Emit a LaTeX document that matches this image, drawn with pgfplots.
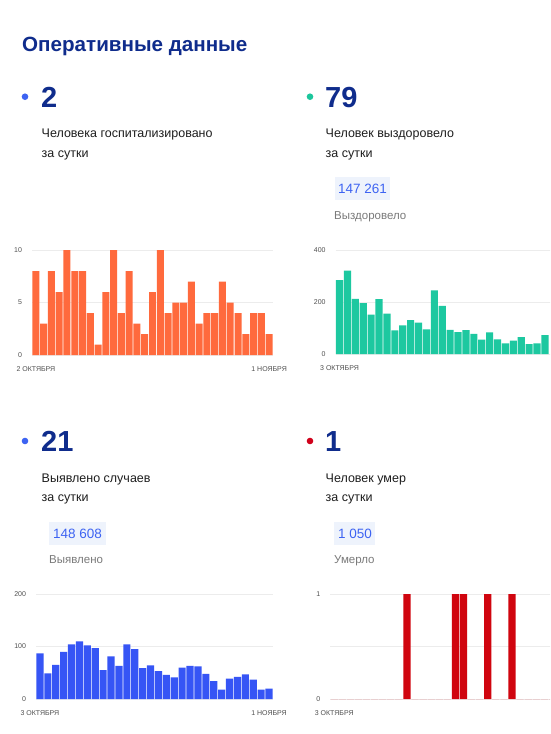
\documentclass[border=0pt]{standalone}
\usepackage{fontspec}
\setmainfont{Liberation Sans}
\usepackage{pgfplots}
\pgfplotsset{compat=1.18}

\definecolor{navy}{HTML}{0F2C8C}
\definecolor{dotblue}{HTML}{3D63F2}
\definecolor{dotteal}{HTML}{1CC69C}
\definecolor{dotred}{HTML}{D0021B}
\definecolor{barorange}{HTML}{FF6A3D}
\definecolor{barteal}{HTML}{1DC8A0}
\definecolor{barblue}{HTML}{3655F5}
\definecolor{barred}{HTML}{D0050F}
\definecolor{bodytext}{HTML}{1E1E1E}
\definecolor{subgray}{HTML}{7A7A7A}
\definecolor{boxbg}{HTML}{EEF3FC}
\definecolor{boxtext}{HTML}{3D63F2}
\definecolor{ticktext}{HTML}{505050}
\definecolor{gridgray}{HTML}{ECECEC}

\pgfplotsset{
  mini/.style={
    scale only axis,
    enlargelimits=false,
    axis line style={draw=none},
    tick style={draw=none},
    major tick length=0pt,
    ymajorgrids,
    grid style={draw=gridgray, line width=0.6pt},
    ybar, bar width=0.9, bar shift=0pt,
    /pgf/number format/assume math mode=true,
    tick label style={font=\fontsize{7}{8}\selectfont, text=ticktext},
    yticklabel style={xshift=-6.5pt},
    xticklabel style={yshift=-8pt},
    xtick={0},
  },
}

\begin{document}
\begin{tikzpicture}
\useasboundingbox (0,0) rectangle (550pt,-734pt);
\clip (0,0) rectangle (550pt,-734pt);
\fill[white] (0,0) rectangle (550pt,-734pt);

% title
\node[anchor=base west, inner sep=0, text=navy, font=\fontsize{20.6}{24}\selectfont\bfseries] at (22pt,-51.7pt) {Оперативные данные};

% panel 1
\fill[dotblue] (25pt,-96.7pt) circle (3.3pt);
\node[anchor=base west, inner sep=0, text=navy, font=\fontsize{29}{30}\selectfont\bfseries] at (41pt,-107.3pt) {2};
\node[anchor=base west, inner sep=0, text=bodytext, font=\fontsize{12.5}{14}\selectfont] at (41.5pt,-137.3pt) {Человека госпитализировано};
\node[anchor=base west, inner sep=0, text=bodytext, font=\fontsize{12.5}{14}\selectfont] at (41.5pt,-157.3pt) {за сутки};

% panel 2
\fill[dotteal] (310pt,-96.7pt) circle (3.3pt);
\node[anchor=base west, inner sep=0, text=navy, font=\fontsize{29}{30}\selectfont\bfseries] at (325pt,-107.3pt) {79};
\node[anchor=base west, inner sep=0, text=bodytext, font=\fontsize{12.5}{14}\selectfont] at (325.5pt,-137.3pt) {Человек выздоровело};
\node[anchor=base west, inner sep=0, text=bodytext, font=\fontsize{12.5}{14}\selectfont] at (325.5pt,-157.3pt) {за сутки};
\fill[boxbg] (335pt,-176.7pt) rectangle (390pt,-200pt);
\node[anchor=base west, inner sep=0, text=boxtext, font=\fontsize{13.5}{15}\selectfont] at (338pt,-193.3pt) {147 261};
\node[anchor=base west, inner sep=0, text=subgray, font=\fontsize{11.5}{13}\selectfont] at (334pt,-219.3pt) {Выздоровело};

% panel 3
\fill[dotblue] (25pt,-441pt) circle (3.3pt);
\node[anchor=base west, inner sep=0, text=navy, font=\fontsize{29}{30}\selectfont\bfseries] at (41pt,-451.7pt) {21};
\node[anchor=base west, inner sep=0, text=bodytext, font=\fontsize{12.5}{14}\selectfont] at (41.5pt,-482.7pt) {Выявлено случаев};
\node[anchor=base west, inner sep=0, text=bodytext, font=\fontsize{12.5}{14}\selectfont] at (41.5pt,-501.7pt) {за сутки};
\fill[boxbg] (49pt,-521.7pt) rectangle (106pt,-545pt);
\node[anchor=base west, inner sep=0, text=boxtext, font=\fontsize{13.5}{15}\selectfont] at (53pt,-538.3pt) {148 608};
\node[anchor=base west, inner sep=0, text=subgray, font=\fontsize{11.5}{13}\selectfont] at (49pt,-563.3pt) {Выявлено};

% panel 4
\fill[dotred] (310pt,-441pt) circle (3.3pt);
\node[anchor=base west, inner sep=0, text=navy, font=\fontsize{29}{30}\selectfont\bfseries] at (325pt,-451.7pt) {1};
\node[anchor=base west, inner sep=0, text=bodytext, font=\fontsize{12.5}{14}\selectfont] at (325.5pt,-482.7pt) {Человек умер};
\node[anchor=base west, inner sep=0, text=bodytext, font=\fontsize{12.5}{14}\selectfont] at (325.5pt,-501.7pt) {за сутки};
\fill[boxbg] (334pt,-521.7pt) rectangle (375pt,-545pt);
\node[anchor=base west, inner sep=0, text=boxtext, font=\fontsize{13.5}{15}\selectfont] at (338pt,-538.3pt) {1 050};
\node[anchor=base west, inner sep=0, text=subgray, font=\fontsize{11.5}{13}\selectfont] at (334pt,-563.3pt) {Умерло};

% hospitalised per day, 2 Oct - 1 Nov
\begin{axis}[mini,
    at={(32pt,-355pt)}, anchor=south west,
    width=241pt, height=105pt,
    xmin=-0.5, xmax=30.5, ymin=0, ymax=10,
    ytick={0,5,10},
    xtick={0,30}, xticklabels={2 ОКТЯБРЯ, 1 НОЯБРЯ}]
  \addplot[fill=barorange, draw=none] coordinates {
    (0,8) (1,3) (2,8) (3,6) (4,10) (5,8) (6,8) (7,4) (8,1) (9,6)
    (10,10) (11,4) (12,8) (13,3) (14,2) (15,6) (16,10) (17,4) (18,5) (19,5)
    (20,7) (21,3) (22,4) (23,4) (24,7) (25,5) (26,4) (27,2) (28,4) (29,4)
    (30,2)
  };
\end{axis}

% recovered per day, from 3 Oct (the right part is cut off in the source)
\begin{axis}[mini,
    at={(335.6pt,-354pt)}, anchor=south west,
    width=237pt, height=104pt,
    xmin=-0.5, xmax=29.5, ymin=0, ymax=400,
    ytick={0,200,400},
    xticklabels={3 ОКТЯБРЯ}]
  \addplot[fill=barteal, draw=none] coordinates {
    (0,284) (1,321) (2,212) (3,196) (4,151) (5,211) (6,155) (7,91) (8,110) (9,130)
    (10,121) (11,95) (12,245) (13,185) (14,93) (15,84) (16,92) (17,77) (18,55) (19,83)
    (20,56) (21,41) (22,51) (23,65) (24,38) (25,41) (26,73)
  };
\end{axis}

% new cases per day, 3 Oct - 1 Nov
\begin{axis}[mini,
    at={(36pt,-699pt)}, anchor=south west,
    width=237pt, height=105pt,
    xmin=-0.5, xmax=29.5, ymin=0, ymax=200,
    ytick={0,100,200},
    xtick={0,29}, xticklabels={3 ОКТЯБРЯ, 1 НОЯБРЯ}]
  \addplot[fill=barblue, draw=none] coordinates {
    (0,87) (1,49) (2,65) (3,90) (4,104) (5,110) (6,102) (7,97) (8,55) (9,81)
    (10,63) (11,104) (12,95) (13,59) (14,64) (15,53) (16,46) (17,41) (18,60) (19,63)
    (20,62) (21,48) (22,34) (23,18) (24,39) (25,42) (26,47) (27,37) (28,18) (29,20)
  };
\end{axis}

% deaths per day, from 3 Oct
\begin{axis}[mini,
    at={(330.2pt,-699pt)}, anchor=south west,
    width=242.4pt, height=105pt,
    xmin=-0.5, xmax=29.5, ymin=0, ymax=1,
    ytick={0,0.5,1}, yticklabels={0,,1},
    xticklabels={3 ОКТЯБРЯ}]
  \addplot[fill=barred, draw=none] coordinates {
    (0,0) (1,0) (2,0) (3,0) (4,0) (5,0) (6,0) (7,0) (8,0) (9,1)
    (10,0) (11,0) (12,0) (13,0) (14,0) (15,1) (16,1) (17,0) (18,0) (19,1)
    (20,0) (21,0) (22,1) (23,0) (24,0) (25,0) (26,0) (27,0)
  };
\end{axis}
\end{tikzpicture}
\end{document}
